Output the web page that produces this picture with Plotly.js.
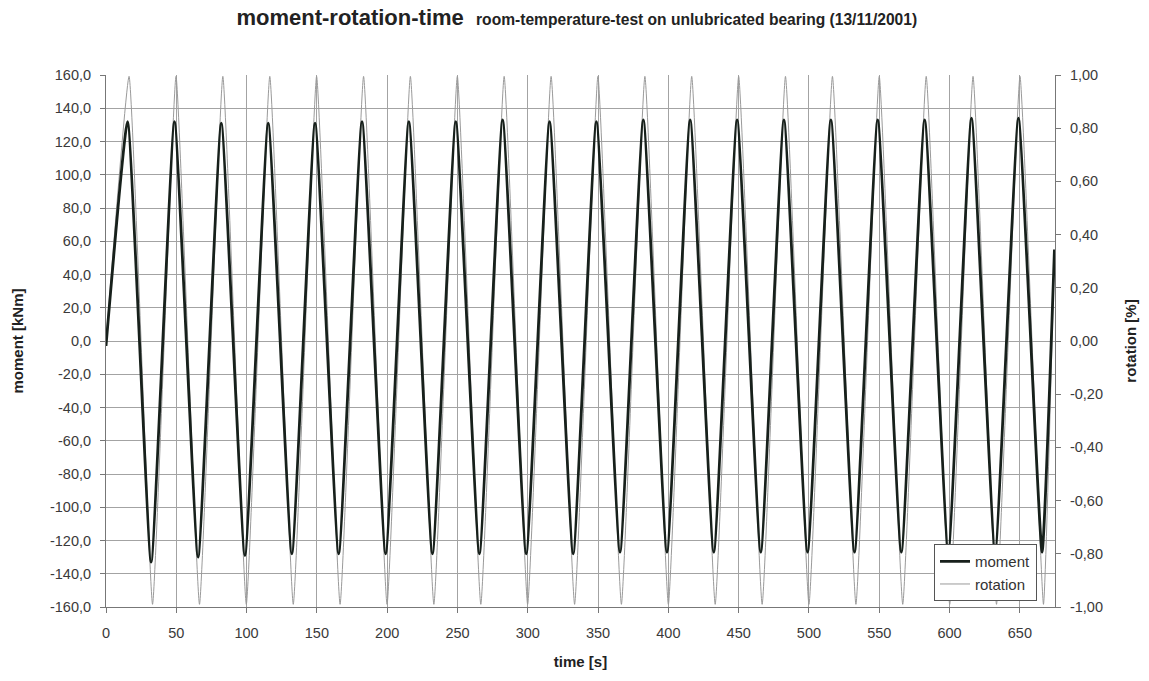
<!DOCTYPE html>
<html>
<head>
<meta charset="utf-8">
<script src="https://cdn.plot.ly/plotly-3.0.1.min.js"></script>
<style>html,body{margin:0;padding:0;background:#fff;}</style>
</head>
<body>
<div id="chart" style="width:1149px;height:681px;"></div>
<script>
// ---- data ----
const startTime = 0, startMoment = -3, startRotation = 0.0;
const endTime = 674.6, endMoment = 55, endRotation = 0.34;

const momentPeakTime = [15.3, 48.7, 82.0, 115.4, 148.7, 182.1, 215.4, 248.8, 282.1, 315.5, 348.8, 382.2, 415.5, 448.9, 482.2, 515.6, 548.9, 582.3, 615.6, 649.0];
const momentPeakValue = [132, 132, 131, 131, 131, 132, 132, 132, 133, 132, 132, 133, 133, 133, 133, 133, 133, 133, 134, 134];
const momentTroughTime = [32.1, 65.5, 98.8, 132.2, 165.5, 198.9, 232.2, 265.6, 298.9, 332.3, 365.6, 399.0, 432.3, 465.7, 499.0, 532.4, 565.7, 599.1, 632.4, 665.8];
const momentTroughValue = [-133, -130, -129, -128, -128, -128, -128, -128, -128, -128, -127, -127, -127, -127, -127, -127, -127, -127, -127, -127];

const rotationPeakTime = [16.4, 49.8, 83.1, 116.5, 149.8, 183.2, 216.5, 249.9, 283.2, 316.6, 349.9, 383.3, 416.6, 450.0, 483.3, 516.7, 550.0, 583.4, 616.7, 650.1];
const rotationPeakValue = [0.995, 0.995, 0.995, 0.995, 0.995, 0.995, 0.995, 0.995, 0.995, 0.995, 0.995, 0.995, 0.995, 0.995, 0.995, 0.995, 0.995, 0.995, 0.995, 0.995];
const rotationTroughTime = [33.1, 66.5, 99.8, 133.2, 166.5, 199.9, 233.2, 266.6, 299.9, 333.3, 366.6, 400.0, 433.3, 466.7, 500.0, 533.4, 566.7, 600.1, 633.4, 666.8];
const rotationTroughValue = [-0.99, -0.99, -0.99, -0.99, -0.99, -0.99, -0.99, -0.99, -0.99, -0.99, -0.99, -0.99, -0.99, -0.99, -0.99, -0.99, -0.99, -0.99, -0.99, -0.99];

const timeTicks = [0, 50, 100, 150, 200, 250, 300, 350, 400, 450, 500, 550, 600, 650];
const momentTicks = [-160, -140, -120, -100, -80, -60, -40, -20, 0, 20, 40, 60, 80, 100, 120, 140, 160];
const momentTickText = ["-160,0", "-140,0", "-120,0", "-100,0", "-80,0", "-60,0", "-40,0", "-20,0", "0,0", "20,0", "40,0", "60,0", "80,0", "100,0", "120,0", "140,0", "160,0"];
const rotationTicks = [-1, -0.8, -0.6, -0.4, -0.2, 0, 0.2, 0.4, 0.6, 0.8, 1];
const rotationTickText = ["-1,00", "-0,80", "-0,60", "-0,40", "-0,20", "0,00", "0,20", "0,40", "0,60", "0,80", "1,00"];

// ---- build series from extrema ----
function series(t0, v0, pT, pV, tT, tV, t1, v1) {
  const x = [t0], y = [v0];
  for (let i = 0; i < pT.length; i++) {
    x.push(pT[i]); y.push(pV[i]);
    x.push(tT[i]); y.push(tV[i]);
  }
  x.push(t1); y.push(v1);
  return {x, y};
}
const m = series(startTime, startMoment, momentPeakTime, momentPeakValue, momentTroughTime, momentTroughValue, endTime, endMoment);
const r = series(startTime, startRotation, rotationPeakTime, rotationPeakValue, rotationTroughTime, rotationTroughValue, endTime, endRotation);

const FONT = 'Liberation Sans, Arial, sans-serif';
const tickFont = {family: FONT, size: 14.5, color: '#3a3a3a'};
const titleFont = {family: FONT, size: 15, color: '#222'};

const traces = [
  {x: r.x, y: r.y, name: 'rotation', type: 'scatter', mode: 'lines', yaxis: 'y',
   line: {color: '#9a9a9a', width: 1, shape: 'spline', smoothing: 0.35}},
  {x: m.x, y: m.y, name: 'moment', type: 'scatter', mode: 'lines', yaxis: 'y2',
   line: {color: '#17201b', width: 2.8, shape: 'spline', smoothing: 0.4}}
];

const layout = {
  width: 1149, height: 681,
  margin: {l: 106, r: 94, t: 75, b: 74},
  paper_bgcolor: '#ffffff', plot_bgcolor: '#ffffff',
  showlegend: true,
  title: {
    text: '<b>moment-rotation-time</b>  <b><span style="font-size:15.6px">room-temperature-test on unlubricated bearing (13/11/2001)</span></b>',
    font: {family: FONT, size: 22, color: '#222'},
    x: 0.502, xref: 'container', xanchor: 'center',
    y: 0.975, yref: 'container', yanchor: 'middle'
  },
  xaxis: {
    range: [0, 675], tickvals: timeTicks, ticks: 'outside', ticklen: 5, tickcolor: '#777',
    showline: true, linecolor: '#777', linewidth: 1, showgrid: true, gridcolor: '#a3a3a3', gridwidth: 1,
    zeroline: false, tickfont: tickFont, ticklabelstandoff: 8,
    title: {text: '<b>time [s]</b>', font: titleFont, standoff: 16}
  },
  yaxis: {
    range: [-1, 1], side: 'right', tickvals: rotationTicks, ticktext: rotationTickText,
    ticks: 'outside', ticklen: 5, tickcolor: '#777', showline: true, linecolor: '#777',
    showgrid: false, zeroline: false, tickfont: tickFont, ticklabelstandoff: 6,
    title: {text: '<b>rotation [%]</b>', font: titleFont, standoff: 23}
  },
  yaxis2: {
    range: [-160, 160], side: 'left', overlaying: 'y', tickvals: momentTicks, ticktext: momentTickText,
    ticks: 'outside', ticklen: 5, tickcolor: '#777', showline: true, linecolor: '#777',
    showgrid: true, gridcolor: '#a3a3a3', gridwidth: 1, zeroline: false, tickfont: tickFont,
    ticklabelstandoff: 6,
    title: {text: '<b>moment [kNm]</b>', font: titleFont, standoff: 22}
  },
  legend: {
    x: 0.8725, y: 0.118, xanchor: 'left', yanchor: 'top',
    bgcolor: '#ffffff', bordercolor: '#555', borderwidth: 1,
    font: {family: FONT, size: 15, color: '#333'},
    traceorder: 'reversed', itemwidth: 30, tracegroupgap: 0
  }
};

Plotly.newPlot('chart', traces, layout, {displayModeBar: false, staticPlot: true});
</script>
</body>
</html>
